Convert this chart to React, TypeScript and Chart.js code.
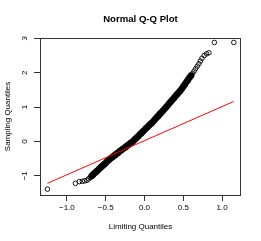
import React, { useEffect, useRef } from "react";
import { Chart, registerables } from "chart.js";

Chart.register(...registerables);

const TITLE = "Normal Q-Q Plot";
const X_TITLE = "Limiting Quantiles";
const Y_TITLE = "Sampling Quantiles";

const xTicks = [-1, -0.5, 0, 0.5, 1];
const yTicks = [-1, 0, 1, 2, 3];

// sparse sample points in the tails (limiting quantile, sampling quantile)
const tailX = [
  -1.25, -0.89, -0.84, -0.8, -0.77, -0.74, -0.72, -0.7,
  0.62, 0.64, 0.66, 0.68, 0.7, 0.72, 0.74, 0.77, 0.8, 0.83, 0.9, 1.15,
];
const tailY = [
  -1.39, -1.22, -1.17, -1.16, -1.15, -1.13, -1.09, -1.05,
  1.98, 2.05, 2.12, 2.19, 2.26, 2.34, 2.42, 2.5, 2.55, 2.58, 2.88, 2.88,
];

// dense body of the sample (overlapping points)
const bodyX = [
  -0.68, -0.66, -0.64, -0.62, -0.6, -0.58, -0.56, -0.54, -0.52, -0.5,
  -0.48, -0.46, -0.44, -0.42, -0.4, -0.38, -0.36, -0.34, -0.32, -0.3,
  -0.28, -0.26, -0.24, -0.22, -0.2, -0.18, -0.16, -0.14, -0.12, -0.1,
  -0.08, -0.06, -0.04, -0.02, 0.0, 0.02, 0.04, 0.06, 0.08, 0.1,
  0.12, 0.14, 0.16, 0.18, 0.2, 0.22, 0.24, 0.26, 0.28, 0.3,
  0.32, 0.34, 0.36, 0.38, 0.4, 0.42, 0.44, 0.46, 0.48, 0.5,
  0.52, 0.54, 0.56, 0.58, 0.6,
];
const bodyY = [
  -1.01, -0.96, -0.92, -0.88, -0.84, -0.79, -0.75, -0.71, -0.67, -0.63,
  -0.58, -0.54, -0.5, -0.47, -0.43, -0.4, -0.36, -0.33, -0.29, -0.26,
  -0.22, -0.19, -0.16, -0.12, -0.09, -0.05, -0.02, 0.02, 0.07, 0.11,
  0.15, 0.2, 0.24, 0.29, 0.33, 0.38, 0.42, 0.47, 0.51, 0.55,
  0.6, 0.65, 0.7, 0.75, 0.8, 0.85, 0.9, 0.95, 1.0, 1.05,
  1.11, 1.16, 1.21, 1.26, 1.32, 1.37, 1.42, 1.47, 1.53, 1.6,
  1.66, 1.73, 1.79, 1.86, 1.92,
];

// reference line endpoints
const lineX = [-1.25, 1.147];
const lineY = [-1.22, 1.16];

const X_MIN = -1.346;
const X_MAX = 1.243;
const Y_MIN = -1.56;
const Y_MAX = 3.01;

const FONT = "'Liberation Sans', Arial, Helvetica, sans-serif";
const minus = (s: string) => s.replace("-", "\u2212");

const boxPlugin = {
  id: "boxAndTitle",
  afterDraw(chart: any) {
    const { ctx, chartArea } = chart;
    ctx.save();
    ctx.strokeStyle = "#333";
    ctx.lineWidth = 1;
    ctx.strokeRect(
      Math.round(chartArea.left) + 0.5,
      Math.round(chartArea.top) + 0.5,
      Math.round(chartArea.right - chartArea.left) - 1,
      Math.round(chartArea.bottom - chartArea.top)
    );
    ctx.fillStyle = "#000";
    ctx.font = `bold 9.6px ${FONT}`;
    ctx.textAlign = "center";
    ctx.textBaseline = "middle";
    ctx.fillText(TITLE, (chartArea.left + chartArea.right) / 2, 19);
    ctx.restore();
  },
};

export default function App() {
  const ref = useRef<HTMLCanvasElement>(null);
  useEffect(() => {
    if (!ref.current) return;
    const tails = tailX.map((x, i) => ({ x, y: tailY[i] }));
    const body = bodyX.map((x, i) => ({ x, y: bodyY[i] }));
    const line = lineX.map((x, i) => ({ x, y: lineY[i] }));
    const chart = new Chart(ref.current, {
      type: "scatter",
      data: {
        datasets: [
          {
            type: "line",
            data: line,
            borderColor: "#ff0000",
            borderWidth: 1,
            pointRadius: 0,
            showLine: true,
            fill: false,
          } as any,
          {
            data: body,
            pointStyle: "circle",
            pointRadius: 2.4,
            pointBorderWidth: 1.8,
            pointBorderColor: "#000",
            pointBackgroundColor: "#000",
          },
          {
            data: tails,
            pointStyle: "circle",
            pointRadius: 2.3,
            pointBorderWidth: 0.9,
            pointBorderColor: "#000",
            pointBackgroundColor: "rgba(0,0,0,0)",
          },
        ],
      },
      options: {
        animation: false,
        responsive: false,
        devicePixelRatio: 1,
        layout: { padding: { left: 0, top: 38, right: 20, bottom: 0 } },
        plugins: {
          legend: { display: false },
          tooltip: { enabled: false },
          title: { display: false },
        },
        scales: {
          x: {
            type: "linear",
            min: X_MIN,
            max: X_MAX,
            afterBuildTicks: (s: any) => {
              s.ticks = xTicks.map((v) => ({ value: v }));
            },
            afterFit: (s: any) => {
              s.height = 46;
            },
            grid: {
              display: true,
              drawOnChartArea: false,
              drawTicks: true,
              tickLength: 6,
              color: "#333",
            },
            border: { display: false },
            ticks: {
              autoSkip: false,
              maxRotation: 0,
              minRotation: 0,
              padding: 2.2,
              color: "#000",
              font: { family: FONT, size: 8 },
              callback: (v: any) => minus(Number(v).toFixed(1)),
            },
            title: {
              display: true,
              text: X_TITLE,
              color: "#000",
              font: { family: FONT, size: 8 },
              padding: { top: 0, bottom: 9.2 },
            },
          },
          y: {
            type: "linear",
            min: Y_MIN,
            max: Y_MAX,
            afterBuildTicks: (s: any) => {
              s.ticks = yTicks.map((v) => ({ value: v }));
            },
            afterFit: (s: any) => {
              s.width = 40;
            },
            grid: {
              display: true,
              drawOnChartArea: false,
              drawTicks: true,
              tickLength: 6,
              color: "#333",
            },
            border: { display: false },
            ticks: {
              autoSkip: false,
              minRotation: 90,
              maxRotation: 90,
              crossAlign: "center",
              padding: 4.4,
              color: "#000",
              font: { family: FONT, size: 8 },
              callback: (v: any) => minus(String(v)),
            },
            title: {
              display: true,
              text: Y_TITLE,
              color: "#000",
              font: { family: FONT, size: 8 },
              padding: { top: 3.2, bottom: 0 },
            },
          },
        },
      },
      plugins: [boxPlugin],
    });
    return () => chart.destroy();
  }, []);
  return (
    <div style={{ position: "absolute", left: 0, top: 0, width: 261, height: 241, background: "#fff" }}>
      <canvas ref={ref} width={261} height={241} style={{ display: "block" }} />
    </div>
  );
}
